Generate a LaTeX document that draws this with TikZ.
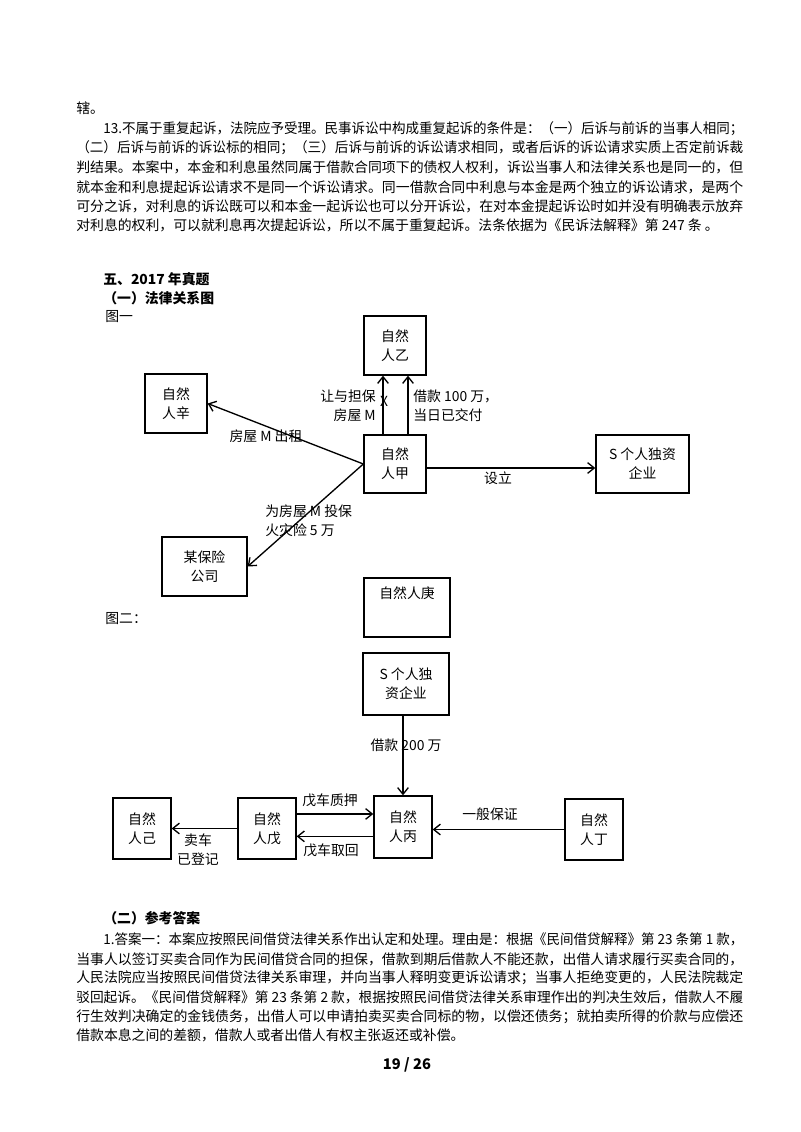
\documentclass[tikz,border=0pt]{standalone}
\usepackage{graphicx}
\usepackage{fontspec}
\setmainfont{Noto Sans CJK SC}
\usetikzlibrary{arrows.meta}

\newcommand\bodyfont{\fontsize{10.4pt}{14.25pt}\selectfont}
\newcommand\jline[2][500.25pt]{\resizebox{#1}{\height}{#2}}

\tikzset{
  box/.style={draw, line width=1pt, align=center, inner sep=0pt},
  arr/.style={line width=1pt, -{Straight Barb[length=5pt,width=8pt]}},
  txt/.style={anchor=west, inner sep=0pt},
  lbl/.style={inner sep=0pt, align=center},
}

\begin{document}
\begin{tikzpicture}[x=0.75pt, y=-0.75pt, font=\bodyfont]
    \path[fill=white, use as bounding box] (0,0) rectangle (800,1132);

    % Text above
    \node[txt] (l0) at (76,108) {辖。};
    \node[txt] (l1) at (103,129) {\jline[480pt]{13.不属于重复起诉，法院应予受理。民事诉讼中构成重复起诉的条件是：（一）后诉与前诉的当事人相同；}};
    \node[txt] (l2) at (76,148) {\jline{（二）后诉与前诉的诉讼标的相同；（三）后诉与前诉的诉讼请求相同，或者后诉的诉讼请求实质上否定前诉裁}};
    \node[txt] (l3) at (76,167) {\jline{判结果。本案中，本金和利息虽然同属于借款合同项下的债权人权利，诉讼当事人和法律关系也是同一的，但}};
    \node[txt] (l4) at (76,187) {\jline{就本金和利息提起诉讼请求不是同一个诉讼请求。同一借款合同中利息与本金是两个独立的诉讼请求，是两个}};
    \node[txt] (l5) at (76,206) {\jline{可分之诉，对利息的诉讼既可以和本金一起诉讼也可以分开诉讼，在对本金提起诉讼时如并没有明确表示放弃}};
    \node[txt] (l6) at (76,225) {对利息的权利，可以就利息再次提起诉讼，所以不属于重复起诉。法条依据为《民诉法解释》第 247 条 。};

    \node[txt, font=\bodyfont\bfseries] (h1) at (103,279) {五、2017 年真题};
    \node[txt, font=\bodyfont\bfseries] (h2) at (103,298) {（一）法律关系图};
    \node[txt] (fig1) at (105,317) {图一};

    % Figure 1
    \node[box, minimum width=46.5pt, minimum height=44.25pt] (yi) at (395,345.5) {自然\\人乙};
    \node[box, minimum width=46.5pt, minimum height=44.25pt] (xin) at (176,403.5) {自然\\人辛};
    \node[box, minimum width=46.5pt, minimum height=43.5pt] (jia) at (395,464) {自然\\人甲};
    \node[box, minimum width=69.75pt, minimum height=43.5pt] (s1) at (642.5,464) {S 个人独资\\企业};
    \node[box, minimum width=63.75pt, minimum height=44.25pt] (bx) at (204.5,566.5) {某保险\\公司};
    \node[box, minimum width=64.5pt, minimum height=44.25pt] (geng) at (407,607.5) {自然人庚\\[8pt]\mbox{}};

    \draw[arr] ([xshift=-9pt]jia.north) -- ([xshift=-9pt]yi.south);
    \draw[arr] ([xshift=9.75pt]jia.north) -- ([xshift=9.75pt]yi.south);
    \draw[arr] (jia.west) -- (xin.east);
    \draw[arr] (jia.west) -- (bx.east);
    \draw[arr] ([yshift=-3pt]jia.east) -- ([yshift=-3pt]s1.west);

    \node[lbl, anchor=east, align=right] (rang) at (376,406) {让与担保\\房屋 M};
    \node[lbl] (xmark) at (384,401) {X};
    \node[lbl, anchor=west, align=left] (jie1) at (413,406) {借款 100 万，\\当日已交付};
    \node[lbl] (chuzu) at (266,436) {房屋 M 出租};
    \node[lbl, anchor=west, align=left] (toubao) at (265,521) {为房屋 M 投保\\火灾险 5 万};
    \node[lbl] (sheli) at (498,478) {设立};

    % Figure 2
    \node[txt] (fig2) at (105,619) {图二：};

    \node[box, minimum width=64.5pt, minimum height=46.5pt] (s2) at (406,684) {S 个人独\\资企业};
    \node[box, minimum width=43.5pt, minimum height=45.75pt] (ji) at (142,828.5) {自然\\人己};
    \node[box, minimum width=43.5pt, minimum height=45.75pt] (wu) at (267,828.5) {自然\\人戊};
    \node[box, minimum width=43.5pt, minimum height=46.5pt] (bing) at (403,827) {自然\\人丙};
    \node[box, minimum width=43.5pt, minimum height=45.75pt] (ding) at (594,829.5) {自然\\人丁};

    \draw[arr] (s2.south -| bing.north) -- (bing.north);
    \draw[arr] ([yshift=10.9pt]wu.east) -- ([yshift=10.9pt]wu.east -| bing.west);
    \draw[arr] ([yshift=-7pt]bing.west) -- ([yshift=-7pt]bing.west -| wu.east);
    \draw[arr] (wu.west) -- (wu.west -| ji.east);
    \draw[arr] (ding.west) -- (ding.west -| bing.east);

    \node[lbl] (jie2) at (406,745) {借款 200 万};
    \node[lbl] (zhiya) at (330,800) {戊车质押};
    \node[lbl] (quhui) at (331,850) {戊车取回};
    \node[lbl] (maiche) at (198,849.5) {卖车\\已登记};
    \node[lbl] (baozheng) at (490,814) {一般保证};

    % Text below
    \node[txt, font=\bodyfont\bfseries] (h3) at (103,918) {（二）参考答案};
    \node[txt] (m1) at (103,939) {\jline[480pt]{1.答案一：本案应按照民间借贷法律关系作出认定和处理。理由是：根据《民间借贷解释》第 23 条第 1 款，}};
    \node[txt] (m2) at (76,959) {\jline{当事人以签订买卖合同作为民间借贷合同的担保，借款到期后借款人不能还款，出借人请求履行买卖合同的，}};
    \node[txt] (m3) at (76,978) {\jline{人民法院应当按照民间借贷法律关系审理，并向当事人释明变更诉讼请求；当事人拒绝变更的，人民法院裁定}};
    \node[txt] (m4) at (76,997) {\jline{驳回起诉。《民间借贷解释》第 23 条第 2 款，根据按照民间借贷法律关系审理作出的判决生效后，借款人不履}};
    \node[txt] (m5) at (76,1017) {\jline{行生效判决确定的金钱债务，出借人可以申请拍卖买卖合同标的物，以偿还债务；就拍卖所得的价款与应偿还}};
    \node[txt] (m6) at (76,1035) {借款本息之间的差额，借款人或者出借人有权主张返还或补偿。};

    \node[lbl, font=\fontsize{11pt}{13pt}\selectfont\bfseries] (page) at (407,1065) {19 / 26};
\end{tikzpicture}
\end{document}
